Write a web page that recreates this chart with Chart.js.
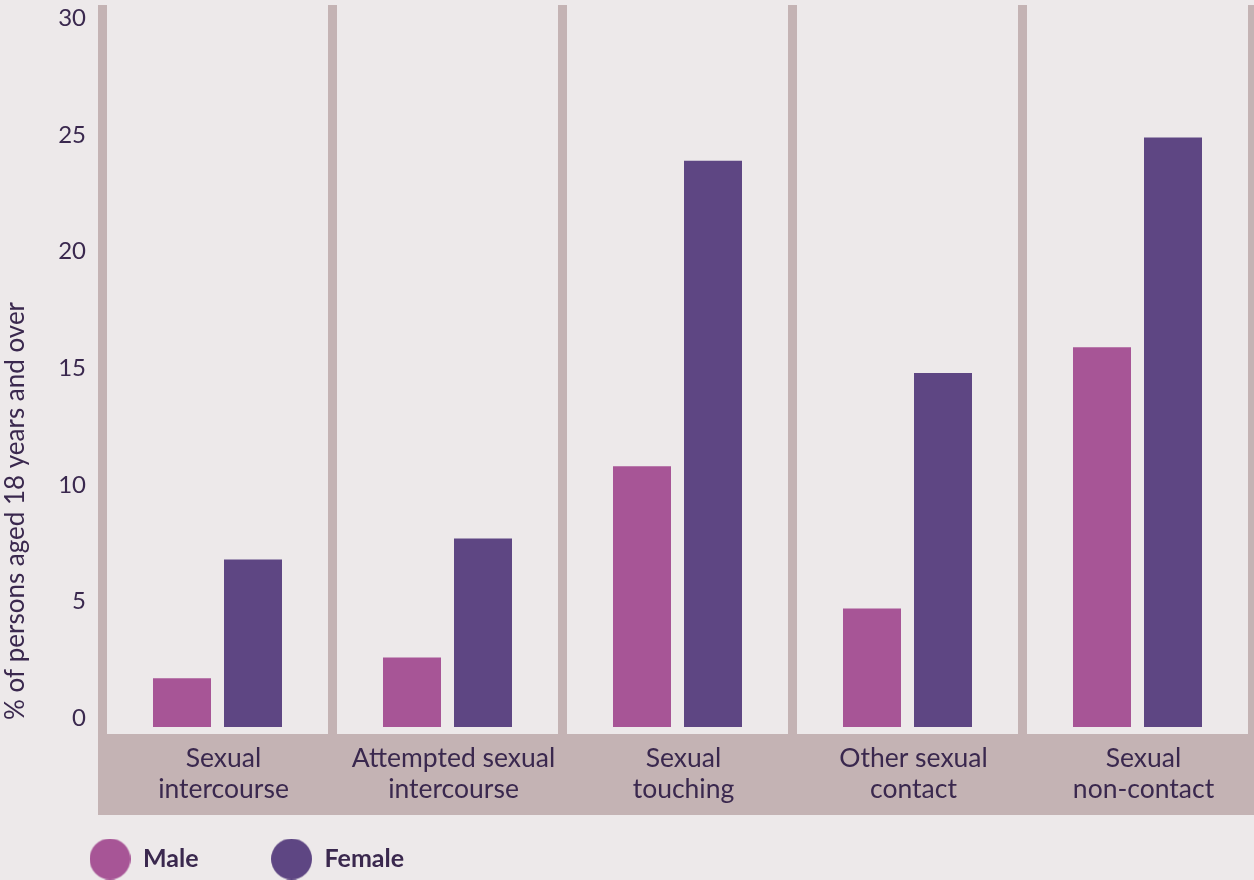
<!DOCTYPE html>
<html>
<head>
<meta charset="utf-8">
<script src="https://cdn.jsdelivr.net/npm/chart.js@4.4.1/dist/chart.umd.min.js"></script>
<style>
  html, body { margin: 0; padding: 0; background: #EDE9EA; }
  #wrap { width: 1254px; height: 880px; }
</style>
</head>
<body>
<div id="wrap"><canvas id="c" width="1254" height="880"></canvas></div>
<script>
const categories = [
  ["Sexual", "intercourse"],
  ["Attempted sexual", "intercourse"],
  ["Sexual", "touching"],
  ["Other sexual", "contact"],
  ["Sexual", "non-contact"]
];
const maleValues = [1.7, 2.6, 10.8, 4.7, 15.9];
const femaleValues = [6.8, 7.7, 23.9, 14.8, 24.9];
const yTickValues = [0, 5, 10, 15, 20, 25, 30];
const seriesNames = ["Male", "Female"];
const yTitle = "% of persons aged 18 years and over";

const MALE = "#A75596";
const FEMALE = "#5E4683";
const SEP = "#C4B3B4";
const TEXT = "#3A284E";
const FONT = "Lato";

function dot(color) {
  const c = document.createElement("canvas");
  c.width = 41; c.height = 41;
  const g = c.getContext("2d");
  g.fillStyle = color;
  g.beginPath(); g.arc(20.5, 20.5, 20.5, 0, Math.PI * 2); g.fill();
  return c;
}
const dots = [dot(MALE), dot(FEMALE)];

const TITLE_SHIFT = 14;
const bandPlugin = {
  id: "band",
  beforeDraw(chart) {
    const a = chart.chartArea, ctx = chart.ctx;
    ctx.save();
    ctx.fillStyle = SEP;
    ctx.fillRect(a.left - 4.5, a.bottom, chart.width - (a.left - 4.5), 81);
    ctx.restore();
    // move the y-axis title start slightly up (restored before datasets draw)
    chart.scales.y.bottom = a.bottom - TITLE_SHIFT;
  },
  beforeDatasetsDraw(chart) {
    chart.scales.y.bottom = chart.chartArea.bottom;
  },
  afterLayout(chart) {
    if (chart.legend) { chart.legend.left += 17; }
    if (chart.scales.x) { chart.scales.x.bottom = chart.height; }
  }
};

new Chart(document.getElementById("c"), {
  type: "bar",
  data: {
    labels: categories,
    datasets: [
      { label: seriesNames[0], data: maleValues, backgroundColor: MALE, base: -0.386 },
      { label: seriesNames[1], data: femaleValues, backgroundColor: FEMALE, base: -0.386 }
    ]
  },
  options: {
    responsive: false,
    animation: false,
    layout: { padding: { top: 5, left: 0, right: 1.5, bottom: -1.5 } },
    categoryPercentage: 0.6174,
    barPercentage: 0.8169,
    scales: {
      x: {
        offset: true,
        grid: { display: true, offset: true, color: SEP, lineWidth: 9, drawTicks: false },
        border: { display: false },
        ticks: { color: TEXT, font: { family: FONT, size: 26.5, lineHeight: 31 / 26.5 }, padding: 8.5, labelOffset: 6, maxRotation: 0, autoSkip: false },
        afterFit(axis) { axis.height = 40; axis.paddingLeft = 0; axis.paddingRight = 0; }
      },
      y: {
        min: -0.686,
        max: 30.579,
        grid: { display: false, drawTicks: false },
        border: { display: false },
        ticks: { color: TEXT, font: { family: FONT, size: 24 }, padding: 16.5 },
        afterBuildTicks(axis) { axis.ticks = yTickValues.map(v => ({ value: v })); },
        title: { display: true, text: yTitle, color: TEXT, font: { family: FONT, size: 26 }, align: "start", padding: { top: 0, bottom: 0 } },
        afterFit(axis) { axis.width = 102.5; axis.paddingTop = 0; axis.paddingBottom = 0; }
      }
    },
    plugins: {
      tooltip: { enabled: false },
      legend: {
        position: "bottom",
        align: "start",
        labels: {
          color: TEXT,
          font: { family: FONT, size: 25, weight: "bold" },
          usePointStyle: true,
          pointStyleWidth: 41,
          padding: 72.5,
          generateLabels(chart) {
            const items = Chart.defaults.plugins.legend.labels.generateLabels(chart);
            items.forEach((it, i) => { it.pointStyle = dots[i]; it.lineWidth = 0; });
            return items;
          }
        }
      }
    }
  },
  plugins: [bandPlugin]
});
</script>
</body>
</html>
